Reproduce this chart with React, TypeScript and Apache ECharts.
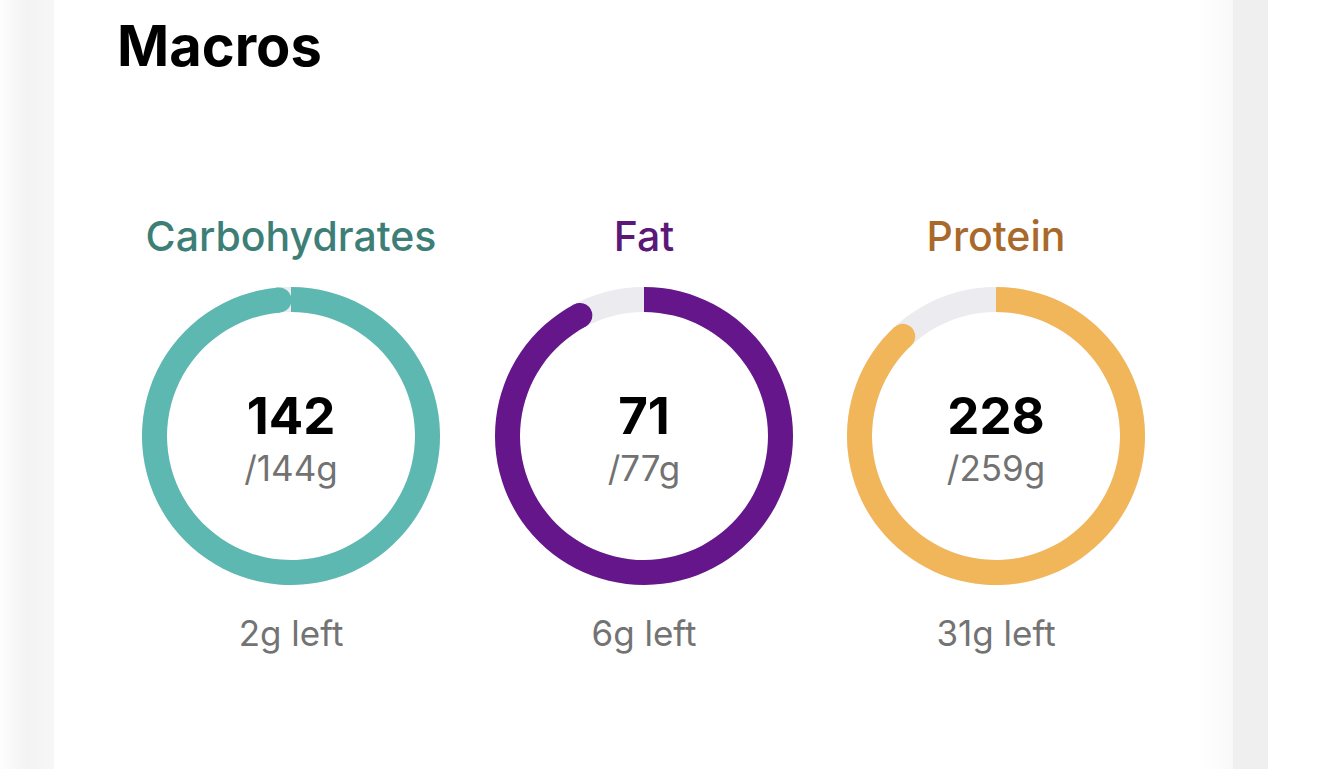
import React, { useEffect, useRef } from "react";
import * as echarts from "echarts";

const categories = ["Carbohydrates", "Fat", "Protein"];
const consumed = [142, 71, 228];
const goals = [144, 77, 259];
const ringColors = ["#5cb8b0", "#64168a", "#f2b65a"];
const labelColors = ["#3d7f77", "#5a1878", "#a8692b"];
const centersX = [291, 644, 996];
const CENTER_Y = 436;
const TRACK = "#ebebf0";
const FONT = "Inter, 'Noto Sans', sans-serif";

export default function App() {
  const ref = useRef<HTMLDivElement>(null);
  useEffect(() => {
    document.body.style.margin = "0";
    const chart = echarts.init(ref.current!, null, { renderer: "svg" });
    const series = categories.map((c, i) => ({
      type: "gauge",
      center: [centersX[i], CENTER_Y],
      radius: 149,
      startAngle: 90,
      endAngle: -270,
      min: 0,
      max: goals[i],
      progress: { show: true, width: 25, roundCap: false, itemStyle: { color: ringColors[i] } },
      axisLine: { lineStyle: { width: 25, color: [[1, TRACK]] } },
      pointer: {
        show: true,
        icon: "circle",
        width: 25,
        length: 25,
        offsetCenter: [0, -124],
        itemStyle: { color: ringColors[i] },
      },
      anchor: { show: false },
      axisTick: { show: false },
      splitLine: { show: false },
      axisLabel: { show: false },
      title: {
        offsetCenter: [0, 32],
        fontSize: 35,
        color: "#727272",
        fontFamily: FONT,
      },
      detail: {
        offsetCenter: [0, -21],
        fontSize: 51,
        fontWeight: "bold",
        color: "#000000",
        fontFamily: FONT,
        formatter: "{value}",
      },
      data: [{ value: consumed[i], name: "/" + goals[i] + "g" }],
    }));
    const graphics: any[] = [
      {
        type: "rect",
        shape: { x: 0, y: 0, width: 54, height: 769 },
        style: {
          fill: new echarts.graphic.LinearGradient(0, 0, 1, 0, [
            { offset: 0, color: "#fdfdfd" },
            { offset: 0.5, color: "#f3f3f3" },
            { offset: 1, color: "#f7f7f7" },
          ]),
        },
        z: -10,
      },
      {
        type: "rect",
        shape: { x: 1195, y: 0, width: 38, height: 769 },
        style: {
          fill: new echarts.graphic.LinearGradient(0, 0, 1, 0, [
            { offset: 0, color: "#ffffff" },
            { offset: 1, color: "#f9f9f9" },
          ]),
        },
        z: -10,
      },
      {
        type: "rect",
        shape: { x: 1233, y: 0, width: 35, height: 769 },
        style: { fill: "#efefef" },
        z: -10,
      },
      {
        type: "text",
        x: 117,
        y: 46,
        style: {
          text: "Macros",
          font: "bold 56px " + FONT,
          fill: "#000000",
          textAlign: "left",
          textVerticalAlign: "middle",
        },
      },
    ];
    categories.forEach((c, i) => {
      graphics.push({
        type: "text",
        x: centersX[i],
        y: 236,
        style: {
          text: c,
          font: "500 41px " + FONT,
          fill: labelColors[i],
          textAlign: "center",
          textVerticalAlign: "middle",
        },
      });
      graphics.push({
        type: "text",
        x: centersX[i],
        y: 633,
        style: {
          text: goals[i] - consumed[i] + "g left",
          font: "35px " + FONT,
          fill: "#737373",
          textAlign: "center",
          textVerticalAlign: "middle",
        },
      });
    });
    chart.setOption({
      animation: false,
      backgroundColor: "#ffffff",
      series,
      graphic: graphics,
    });
    return () => chart.dispose();
  }, []);
  return <div ref={ref} style={{ width: 1320, height: 769 }} />;
}
